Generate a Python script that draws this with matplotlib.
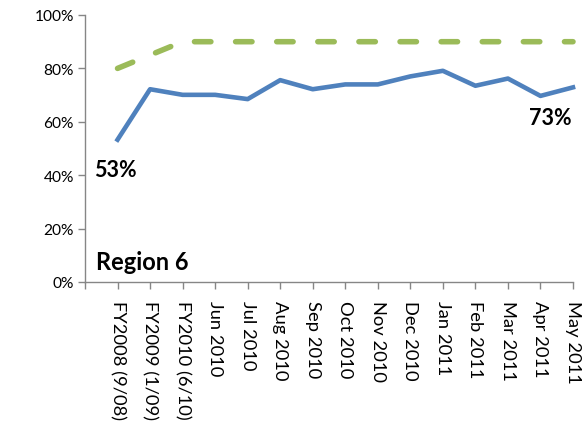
import numpy as np
import matplotlib.pyplot as plt
from matplotlib.ticker import FuncFormatter

plt.rcParams['font.family'] = ['Lato', 'DejaVu Sans']

categories = ["FY2008 (9/08)", "FY2009 (1/09)", "FY2010 (6/10)", "Jun 2010",
              "Jul 2010", "Aug 2010", "Sep 2010", "Oct 2010", "Nov 2010",
              "Dec 2010", "Jan 2011", "Feb 2011", "Mar 2011", "Apr 2011",
              "May 2011"]
actual = [53.3, 72.2, 70.1, 70.1, 68.5, 75.6, 72.2, 74.0, 74.0, 77.0,
          79.1, 73.5, 76.2, 69.7, 72.9]
target = [80, 85, 90, 90, 90, 90, 90, 90, 90, 90, 90, 90, 90, 90, 90]
yticks = [0, 20, 40, 60, 80, 100]

fig = plt.figure(figsize=(5.86, 4.27), dpi=100)
ax = fig.add_axes([85 / 586, 1 - 283 / 427, (573 - 85) / 586, (283 - 16) / 427])

x = np.arange(len(categories))
ax.plot(x, target, color="#9BBB59", lw=4.0, ls=(0, (2.95, 4.45)),
        dash_capstyle="round", solid_capstyle="round", clip_on=False)
ax.plot(x, actual, color="#4F81BD", lw=3.3, solid_joinstyle="round", clip_on=False)

ax.set_xlim(-1, len(categories) - 1)
ax.set_ylim(0, 100)
ax.set_xticks(np.arange(-1, len(categories)))
ax.set_xticklabels([""] + categories, rotation=270, fontsize=13.2)
ax.set_yticks(yticks)
ax.yaxis.set_major_formatter(FuncFormatter(lambda v, p: f"{v:.0f}%"))
ax.tick_params(axis="y", labelsize=11.2, length=5, color="#868686", width=1, pad=3)
ax.tick_params(axis="x", length=5, color="#868686", width=1, pad=8)

for s in ["top", "right"]:
    ax.spines[s].set_visible(False)
for s in ["left", "bottom"]:
    ax.spines[s].set_color("#868686")
    ax.spines[s].set_linewidth(1)

ax.text(-0.08, 42, f"{actual[0]:.0f}%", fontsize=15.5, fontweight="bold", ha="center", va="center")
ax.text(13.3, 61.5, f"{actual[-1]:.0f}%", fontsize=15.5, fontweight="bold",
        ha="center", va="center")
ax.text(-0.66, 7.8, "Region 6", fontsize=17, fontweight="bold", ha="left", va="center")

fig.savefig("out.png", dpi=100)
